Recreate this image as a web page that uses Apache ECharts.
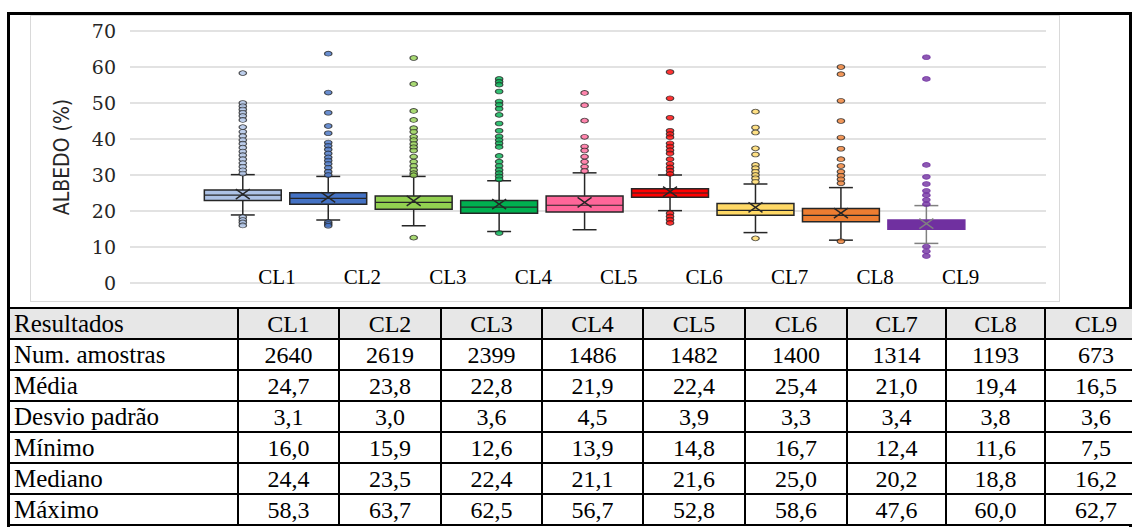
<!DOCTYPE html>
<html>
<head>
<meta charset="utf-8">
<script src="https://cdn.jsdelivr.net/npm/echarts@6/dist/echarts.min.js"></script>
<style>
  html, body { margin: 0; padding: 0; background: #fff; width: 1132px; height: 527px; overflow: hidden; position: relative; }
  #moldura { position: absolute; left: 7px; top: 12px; width: 1125px; height: 600px; border: 3px solid #000; box-sizing: border-box; }
  #area { position: absolute; left: 30px; top: 15px; width: 1030px; height: 287px; border: 1px solid #d9d9d9; box-sizing: border-box; }
  #grafico { position: absolute; left: 0; top: 0; width: 1132px; height: 527px; }
  #tabela { position: absolute; left: 8px; top: 307px; width: 1138px; border-collapse: collapse; table-layout: fixed; background: #fff;
            font-family: 'Liberation Serif', 'Times New Roman', serif; font-size: 24px; color: #000; }
  #tabela td { border: 2px solid #000; height: 29px; padding: 0 4px; line-height: 1; text-align: center; white-space: nowrap; overflow: hidden; }
  #tabela td:first-child { text-align: left; font-size: 25px; }
  #tabela tr.cab td { background: #e7e7e7; }
</style>
</head>
<body>
<div id="moldura"></div>
<div id="area"></div>
<div id="grafico"></div>
<table id="tabela"></table>
<script>
// Classes de albedo
const categorias = ['CL1', 'CL2', 'CL3', 'CL4', 'CL5', 'CL6', 'CL7', 'CL8', 'CL9'];

// Estatísticas por classe (tabela de resultados)
const numAmostras  = [2640, 2619, 2399, 1486, 1482, 1400, 1314, 1193, 673];
const media        = [24.7, 23.8, 22.8, 21.9, 22.4, 25.4, 21.0, 19.4, 16.5];
const desvioPadrao = [3.1, 3.0, 3.6, 4.5, 3.9, 3.3, 3.4, 3.8, 3.6];
const minimo       = [16.0, 15.9, 12.6, 13.9, 14.8, 16.7, 12.4, 11.6, 7.5];
const mediano      = [24.4, 23.5, 22.4, 21.1, 21.6, 25.0, 20.2, 18.8, 16.2];
const maximo       = [58.3, 63.7, 62.5, 56.7, 52.8, 58.6, 47.6, 60.0, 62.7];

// Quartis e extremos dos bigodes
const quartil1  = [22.9, 21.9, 20.5, 19.4, 19.7, 23.8, 18.8, 17.0, 14.9];
const quartil3  = [25.8, 25.1, 24.2, 22.9, 24.2, 26.2, 22.1, 20.7, 17.5];
const bigodeInf = [18.9, 17.5, 15.9, 14.3, 14.8, 20.1, 14.0, 11.9, 11.0];
const bigodeSup = [30.1, 29.6, 29.6, 28.4, 30.6, 30.0, 27.5, 26.5, 21.5];

// Valores atípicos (além do mínimo e do máximo)
const atipicosAcima = [
  [50.0, 49.1, 48.2, 47.3, 46.4, 45.3, 43.3, 42.0, 40.8, 39.7, 38.7, 37.6, 36.5, 35.5, 34.4, 33.3, 32.3, 31.3, 30.4],
  [52.9, 47.3, 43.6, 41.6, 39.0, 38.1, 37.1, 36.0, 34.9, 34.0, 33.1, 32.0, 30.9, 30.0],
  [55.3, 47.8, 45.3, 43.0, 42.0, 40.6, 39.7, 38.6, 37.7, 36.8, 35.1, 33.7, 32.5, 31.4, 30.5, 29.9],
  [55.9, 55.1, 53.2, 50.4, 49.5, 48.4, 46.7, 44.3, 42.3, 40.7, 39.7, 38.8, 37.8, 35.3, 33.7, 32.5, 31.4, 30.5, 29.6, 28.8],
  [49.4, 45.1, 40.6, 37.9, 36.8, 35.1, 33.7, 32.3, 31.1],
  [51.3, 45.9, 42.3, 41.4, 40.5, 38.8, 37.9, 36.9, 36.0, 34.4, 33.1, 32.1, 31.2, 30.3],
  [43.2, 41.8, 37.4, 35.7, 32.8, 31.9, 30.9, 30.0, 29.1, 28.1],
  [58.0, 50.6, 45.0, 40.4, 37.3, 34.4, 32.5, 30.9, 29.8, 28.8, 27.7],
  [56.7, 32.8, 29.5, 27.5, 25.6, 24.4, 23.1, 21.9]
];
const atipicosAbaixo = [
  [18.3, 17.5, 16.8],
  [16.9, 16.4],
  [],
  [],
  [],
  [19.4, 18.5, 17.6],
  [],
  [],
  [10.1, 8.8]
];

// Eixo vertical
const eixoMin = 0, eixoMax = 70, eixoPasso = 10;

// Aparência
const cores = ['#adc2e6', '#4472c4', '#92d050', '#00b050', '#ff6699', '#ff0000', '#ffd966', '#ed7d31', '#7030a0'];
const corLinha = '#262626';
const corLinhaCL9 = '#808080';

// Tabela de resultados
const linhas = [
  ['Num. amostras', numAmostras.map(v => String(v))],
  ['Média', media.map(v => v.toFixed(1).replace('.', ','))],
  ['Desvio padrão', desvioPadrao.map(v => v.toFixed(1).replace('.', ','))],
  ['Mínimo', minimo.map(v => v.toFixed(1).replace('.', ','))],
  ['Mediano', mediano.map(v => v.toFixed(1).replace('.', ','))],
  ['Máximo', maximo.map(v => v.toFixed(1).replace('.', ','))]
];
const largurasColunas = [229, 101, 102, 101, 101, 102, 102, 99, 99, 102];
const tabela = document.getElementById('tabela');
const colgroup = document.createElement('colgroup');
largurasColunas.forEach(w => { const c = document.createElement('col'); c.style.width = w + 'px'; colgroup.appendChild(c); });
tabela.appendChild(colgroup);
function addLinha(celulas, classe) {
  const tr = document.createElement('tr');
  if (classe) tr.className = classe;
  celulas.forEach(t => { const td = document.createElement('td'); td.textContent = t; tr.appendChild(td); });
  tabela.appendChild(tr);
}
addLinha(['Resultados'].concat(categorias), 'cab');
linhas.forEach(l => addLinha([l[0]].concat(l[1])));

// Dados das caixas: [posição, bigode inferior, Q1, mediana, Q3, bigode superior, média]
const dadosCaixas = categorias.map((c, i) => [i + 1, bigodeInf[i], quartil1[i], mediano[i], quartil3[i], bigodeSup[i], media[i]]);

// Pontos atípicos
const dadosPontos = [];
categorias.forEach((c, i) => {
  const valores = [];
  if (maximo[i] > bigodeSup[i]) valores.push(maximo[i]);
  atipicosAcima[i].forEach(v => valores.push(v));
  atipicosAbaixo[i].forEach(v => valores.push(v));
  if (minimo[i] < bigodeInf[i]) valores.push(minimo[i]);
  valores.forEach(v => dadosPontos.push({
    value: [i + 1, v],
    itemStyle: { color: cores[i], borderColor: i === 8 ? cores[i] : corLinha, borderWidth: 1 }
  }));
});

function desenhaCaixa(params, api) {
  const i = params.dataIndex;
  const x = api.value(0);
  const unidade = api.size([1, 0])[0];
  const larg = unidade * 0.9;
  const largTampa = unidade * 0.28;
  const pLo = api.coord([x, api.value(1)]);
  const pQ1 = api.coord([x, api.value(2)]);
  const pMed = api.coord([x, api.value(3)]);
  const pQ3 = api.coord([x, api.value(4)]);
  const pHi = api.coord([x, api.value(5)]);
  const pMedia = api.coord([x, api.value(6)]);
  const pRotulo = api.coord([x + 0.4, eixoMin]);
  const cx = pLo[0];
  const linha = i === 8 ? corLinhaCL9 : corLinha;
  const borda = i === 8 ? cores[i] : corLinha;
  const traco = { stroke: linha, lineWidth: 1.5 };
  const mx = 7, my = 5;
  return {
    type: 'group',
    children: [
      { type: 'line', shape: { x1: cx, y1: pHi[1], x2: cx, y2: pQ3[1] }, style: traco },
      { type: 'line', shape: { x1: cx, y1: pQ1[1], x2: cx, y2: pLo[1] }, style: traco },
      { type: 'line', shape: { x1: cx - largTampa / 2, y1: pHi[1], x2: cx + largTampa / 2, y2: pHi[1] }, style: traco },
      { type: 'line', shape: { x1: cx - largTampa / 2, y1: pLo[1], x2: cx + largTampa / 2, y2: pLo[1] }, style: traco },
      { type: 'rect', shape: { x: cx - larg / 2, y: pQ3[1], width: larg, height: pQ1[1] - pQ3[1] },
        style: { fill: cores[i], stroke: borda, lineWidth: 1.5 } },
      { type: 'line', shape: { x1: cx - larg / 2, y1: pMed[1], x2: cx + larg / 2, y2: pMed[1] },
        style: { stroke: borda, lineWidth: 1.2 } },
      { type: 'line', shape: { x1: cx - mx, y1: pMedia[1] - my, x2: cx + mx, y2: pMedia[1] + my }, style: { stroke: linha, lineWidth: 1.4 } },
      { type: 'line', shape: { x1: cx - mx, y1: pMedia[1] + my, x2: cx + mx, y2: pMedia[1] - my }, style: { stroke: linha, lineWidth: 1.4 } },
      { type: 'text', x: pRotulo[0], y: pRotulo[1] - 6,
        style: { text: categorias[i], fill: '#000', fontSize: 21, fontFamily: "'Liberation Serif', 'Times New Roman', serif",
                 align: 'center', verticalAlign: 'middle', textAlign: 'center', textVerticalAlign: 'middle' } }
    ]
  };
}

const grafico = echarts.init(document.getElementById('grafico'), null, { renderer: 'svg' });
grafico.setOption({
  animation: false,
  backgroundColor: 'transparent',
  grid: { left: 130, right: 86, top: 31, bottom: 244 },
  xAxis: { type: 'value', min: -0.32, max: 10.4, show: false },
  yAxis: {
    type: 'value', min: eixoMin, max: eixoMax, interval: eixoPasso,
    axisLine: { show: false }, axisTick: { show: false },
    axisLabel: { color: '#262626', fontSize: 19, fontFamily: "'DejaVu Serif', serif", margin: 14 },
    splitLine: { lineStyle: { color: '#e2e2e2', width: 2 } }
  },
  graphic: [{
    type: 'text', x: 62, y: 157, rotation: Math.PI / 2,
    style: { text: 'ALBEDO (%)', fill: '#262626', fontSize: 21,
             fontFamily: "'Liberation Sans Narrow', 'DejaVu Sans Condensed', sans-serif",
             align: 'center', verticalAlign: 'middle', textAlign: 'center', textVerticalAlign: 'middle' }
  }],
  series: [
    {
      type: 'custom',
      renderItem: desenhaCaixa,
      encode: { x: 0, y: [1, 2, 3, 4, 5, 6] },
      data: dadosCaixas,
      z: 2
    },
    {
      type: 'scatter',
      symbol: 'circle',
      symbolSize: [7.5, 4.8],
      data: dadosPontos,
      z: 3
    }
  ]
});
</script>
</body>
</html>
